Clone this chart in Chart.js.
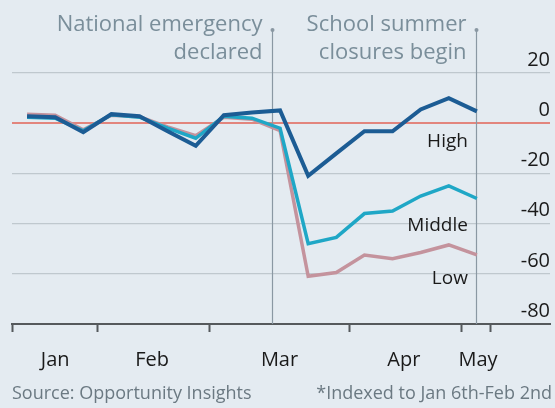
<!DOCTYPE html>
<html>
<head>
<meta charset="utf-8">
<script src="https://cdn.jsdelivr.net/npm/chart.js@4"></script>
<style>
  html, body { margin: 0; padding: 0; background: #e4ebf1; }
  canvas { display: block; }
</style>
</head>
<body>
<canvas id="chart" width="555" height="408"></canvas>
<script>
// weekly index, first week of Jan = 0
const WEEKS  = [0, 1, 2, 3, 4, 5, 6, 7, 8, 9, 10, 11, 12, 13, 14, 15, 16];
const HIGH   = [2.8, 2.4, -3.6, 3.6, 2.8, -3.2, -9, 3.2, 4.3, 5.1, -21, -12, -3.2, -3.2, 5.5, 10, 4.7];
const MIDDLE = [2.4, 2.0, -3.0, 3.4, 2.4, -2.0, -6, 2.8, 2.0, -2, -48, -45.5, -36, -35, -29, -25, -30];
const LOW    = [3.6, 3.2, -2.6, 3.2, 2.6, -1.5, -5, 2.4, 1.6, -3, -61, -59.5, -52.5, -54, -51.5, -48.5, -52.5];

const MONTHS      = ['Jan', 'Feb', 'Mar', 'Apr', 'May'];
const MONTH_POS   = [1.0, 4.45, 8.98, 13.4, 16.04];
const TICK_BOUNDS = [-0.535, 2.49, 6.49, 11.47, 15.47, 16.5];
const Y_TICKS     = [-80, -60, -40, -20, 0, 20];

const EVENTS     = [8.7, 15.97];
const EVENT_TEXT = [['National emergency', 'declared'], ['School summer', 'closures begin']];

const COLORS = {
  bg:     '#e4ebf1',
  grid:   '#bfc8ce',
  zero:   '#e2857d',
  axis:   '#55595c',
  high:   '#1c5c94',
  middle: '#1fa7c6',
  low:    '#c4939d',
  note:   '#7a8e9a',
  text:   '#1a1a1a',
};
const FONT = '"Open Sans", "DejaVu Sans", sans-serif';

const decor = {
  id: 'decor',
  beforeDraw(chart) {
    const { ctx } = chart;
    ctx.save();
    ctx.fillStyle = COLORS.bg;
    ctx.fillRect(0, 0, chart.width, chart.height);
    ctx.restore();
  },
  beforeDatasetsDraw(chart) {
    const { ctx, chartArea } = chart;
    const x = chart.scales.x;
    ctx.save();
    EVENTS.forEach((v, i) => {
      const px = Math.round(x.getPixelForValue(v)) + 0.5;
      ctx.strokeStyle = '#8a98a3';
      ctx.lineWidth = 1.2;
      ctx.beginPath();
      ctx.moveTo(px, 30);
      ctx.lineTo(px, chartArea.bottom);
      ctx.stroke();
      ctx.fillStyle = '#8a98a3';
      ctx.beginPath();
      ctx.arc(px, 30, 2, 0, Math.PI * 2);
      ctx.fill();
      ctx.fillStyle = COLORS.note;
      ctx.font = '22px ' + FONT;
      ctx.textAlign = 'right';
      ctx.textBaseline = 'middle';
      ctx.fillText(EVENT_TEXT[i][0], px - 10, 25);
      ctx.fillText(EVENT_TEXT[i][1], px - 10, 53);
    });
    ctx.restore();
  },
  afterDatasetsDraw(chart) {
    const { ctx } = chart;
    const x = chart.scales.x, y = chart.scales.y;
    const end = WEEKS[WEEKS.length - 1];
    ctx.save();
    ctx.fillStyle = COLORS.text;
    ctx.font = '19px ' + FONT;
    ctx.textAlign = 'right';
    ctx.textBaseline = 'middle';
    const rx = x.getPixelForValue(end) - 9;
    ctx.fillText('High', rx, y.getPixelForValue(-7.4));
    ctx.fillText('Middle', rx, y.getPixelForValue(-40.8));
    ctx.fillText('Low', rx, y.getPixelForValue(-61.8));

    ctx.fillStyle = '#6b7982';
    ctx.font = '18px ' + FONT;
    ctx.textAlign = 'left';
    ctx.fillText('Source: Opportunity Insights', 12, 394);
    ctx.textAlign = 'right';
    ctx.fillText('*Indexed to Jan 6th-Feb 2nd', 552, 394);
    ctx.restore();
  },
};

const points = (vals) => WEEKS.map((w, i) => ({ x: w, y: vals[i] }));

new Chart(document.getElementById('chart'), {
  type: 'line',
  data: {
    datasets: [
      { label: 'High',   data: points(HIGH),   borderColor: COLORS.high,   borderWidth: 4,   order: 1 },
      { label: 'Middle', data: points(MIDDLE), borderColor: COLORS.middle, borderWidth: 3.5, order: 2 },
      { label: 'Low',    data: points(LOW),    borderColor: COLORS.low,    borderWidth: 3.5, order: 3 },
    ],
  },
  options: {
    responsive: false,
    animation: false,
    events: [],
    layout: { padding: { top: 73, left: 12, right: 5, bottom: 28 } },
    elements: {
      point: { radius: 0 },
      line: { tension: 0, borderJoinStyle: 'miter', borderCapStyle: 'butt' },
    },
    plugins: {
      legend: { display: false },
      tooltip: { enabled: false },
    },
    scales: {
      x: {
        type: 'linear',
        min: TICK_BOUNDS[0],
        max: 18.6,
        afterBuildTicks: (axis) => { axis.ticks = TICK_BOUNDS.map(v => ({ value: v })); },
        grid: { drawOnChartArea: false, drawTicks: true, tickLength: 8, color: COLORS.axis, tickWidth: 2 },
        border: { display: true, color: COLORS.axis, width: 2 },
        ticks: { display: false },
      },
      x2: {
        type: 'linear',
        position: 'bottom',
        min: TICK_BOUNDS[0],
        max: 18.6,
        afterBuildTicks: (axis) => { axis.ticks = MONTH_POS.map(v => ({ value: v })); },
        grid: { display: false },
        border: { display: false },
        ticks: {
          autoSkip: false,
          maxRotation: 0,
          padding: 8,
          color: COLORS.text,
          font: { family: FONT, size: 20 },
          callback: (v, i) => MONTHS[i],
        },
      },
      y: {
        position: 'right',
        min: -80,
        max: 20,
        afterBuildTicks: (axis) => { axis.ticks = Y_TICKS.map(v => ({ value: v })); },
        grid: {
          drawTicks: false,
          color: (c) => c.tick && c.tick.value === 0 ? COLORS.zero : COLORS.grid,
          lineWidth: (c) => c.tick && c.tick.value === 0 ? 2 : 1.3,
        },
        border: { display: false },
        ticks: {
          mirror: true,
          padding: 0,
          labelOffset: -13,
          color: COLORS.text,
          font: { family: FONT, size: 20 },
        },
      },
    },
  },
  plugins: [decor],
});
</script>
</body>
</html>
